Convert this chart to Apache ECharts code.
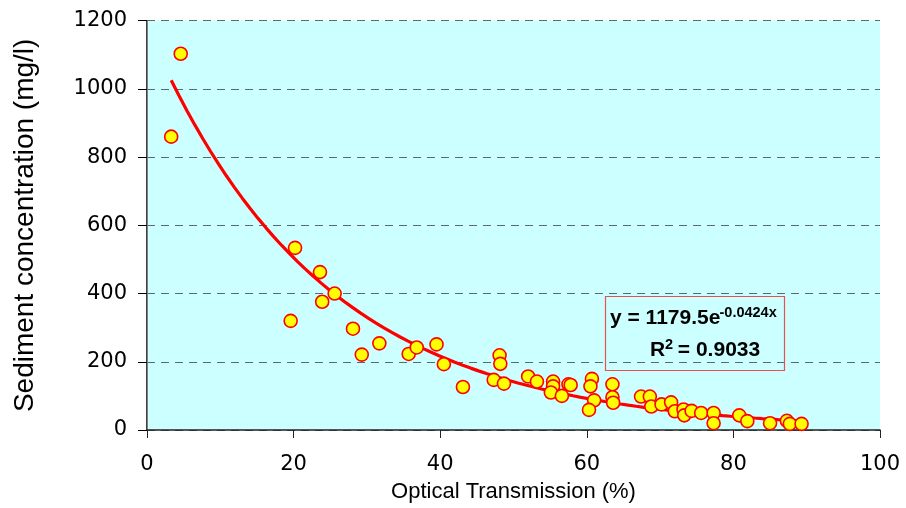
<!DOCTYPE html>
<html>
<head>
<meta charset="utf-8">
<script src="https://cdn.jsdelivr.net/npm/echarts@6/dist/echarts.min.js"></script>
<style>
  html, body { margin: 0; padding: 0; background: #ffffff; }
  #chart { width: 906px; height: 508px; }
</style>
</head>
<body>
<div id="chart"></div>
<script>
// ---- Data ----
const transmission = [3.3, 4.6, 20.2, 23.6, 25.6, 23.9, 19.6, 28.1, 31.7, 29.3,
  35.7, 36.8, 39.5, 40.5, 43.1, 48.1, 48.2, 47.3, 48.7, 52.0,
  53.2, 55.4, 55.4, 55.1, 56.6, 57.5, 57.8, 60.7, 60.5, 61.0,
  60.3, 63.5, 63.5, 63.6, 67.4, 68.6, 68.8, 70.2, 71.5, 72.0,
  73.2, 73.3, 74.3, 75.6, 77.3, 77.3, 80.8, 81.9, 85.0, 87.3,
  87.7, 89.3];
const concentration = [860, 1103, 534, 463, 400, 376, 320, 297, 254, 221,
  223, 242, 251, 193, 126, 219, 194, 147, 136, 157,
  142, 142, 128, 110, 100, 134, 132, 150, 128, 87,
  59, 134, 96, 80, 98, 98, 69, 75, 81, 55,
  60, 43, 56, 50, 50, 20, 43, 26, 20, 27,
  18, 18];
const xTicks = [0, 20, 40, 60, 80, 100];
const yTicks = [0, 200, 400, 600, 800, 1000, 1200];
// Trendline parameters as printed on the chart (y = a * e^(b x))
const trendA = 1179.5;
const trendB = -0.0424;
const rSquared = '0.9033';
const xTitle = 'Optical Transmission (%)';
const yTitle = 'Sediment concentration (mg/l)';

// ---- Build series ----
const scatterData = transmission.map((x, i) => [x, concentration[i]]);
const xMin = Math.min(...transmission), xMax = Math.max(...transmission);
const trendData = [];
const steps = 80;
for (let k = 0; k <= steps; k++) {
  const x = xMin + (xMax - xMin) * k / steps;
  trendData.push([x, trendA * Math.exp(trendB * x)]);
}

const chart = echarts.init(document.getElementById('chart'), null, { renderer: 'canvas' });
const font = 'Liberation Sans, Arial, sans-serif';
const tickFont = 'DejaVu Sans, Liberation Sans, sans-serif';
chart.setOption({
  animation: false,
  backgroundColor: '#ffffff',
  grid: {
    left: 147, right: 26, top: 20.7, bottom: 77,
    show: true, backgroundColor: '#CCFFFF', borderWidth: 0
  },
  xAxis: {
    type: 'value',
    min: xTicks[0], max: xTicks[xTicks.length - 1], interval: xTicks[1] - xTicks[0],
    name: xTitle, nameLocation: 'middle', nameGap: 51,
    nameTextStyle: { fontFamily: font, fontSize: 22, color: '#000' },
    axisLine: { show: true, onZero: false, lineStyle: { color: '#222', width: 1.5 } },
    axisTick: { show: true, inside: false, length: 8, lineStyle: { color: '#222', width: 1 } },
    axisLabel: { fontFamily: tickFont, fontSize: 21, color: '#000', margin: 24 },
    splitLine: { show: false }
  },
  yAxis: [{
    type: 'value',
    min: yTicks[0], max: yTicks[yTicks.length - 1], interval: yTicks[1] - yTicks[0],
    name: yTitle, nameLocation: 'middle', nameGap: 108,
    nameTextStyle: { fontFamily: font, fontSize: 28, color: '#000' },
    axisLine: { show: true, onZero: false, lineStyle: { color: '#000', width: 1.5 } },
    axisTick: { show: true, inside: false, length: 9, lineStyle: { color: '#000', width: 1 } },
    axisLabel: { fontFamily: tickFont, fontSize: 21, color: '#000', margin: 20,
      formatter: v => String(v) },
    splitLine: { show: true, lineStyle: { color: '#5a6a6a', width: 1.2, type: [8, 6] } }
  }, {
    type: 'value', position: 'right',
    min: yTicks[0], max: yTicks[yTicks.length - 1], interval: yTicks[1] - yTicks[0],
    axisLine: { show: true, lineStyle: { color: '#808080', width: 1 } },
    axisTick: { show: false }, axisLabel: { show: false }, splitLine: { show: false }
  }],
  series: [{
    type: 'line',
    data: trendData,
    showSymbol: false,
    smooth: false,
    lineStyle: { color: '#FF0000', width: 3.2 },
    z: 2
  }, {
    type: 'scatter',
    data: scatterData,
    symbol: 'circle',
    symbolSize: 13,
    itemStyle: { color: '#FFFF00', borderColor: '#FF0000', borderWidth: 1.6, opacity: 1 },
    z: 3
  }],
  graphic: [{
    type: 'rect',
    shape: { x: 605.5, y: 296.5, width: 179, height: 74 },
    style: { fill: 'none', stroke: '#E85050', lineWidth: 1.2 },
    z: 10
  }, {
    type: 'text', x: 610, y: 318.5, z: 11,
    style: { text: 'y = ' + trendA + 'e', align: 'left', verticalAlign: 'middle',
      font: 'bold 21px Liberation Sans, Arial, sans-serif', fill: '#000' }
  }, {
    type: 'text', x: 719.5, y: 313, z: 11,
    style: { text: String(trendB) + 'x', align: 'left', verticalAlign: 'middle',
      font: 'bold 14.5px Liberation Sans, Arial, sans-serif', fill: '#000' }
  }, {
    type: 'text', x: 650, y: 350.5, z: 11,
    style: { text: 'R', align: 'left', verticalAlign: 'middle',
      font: 'bold 21px Liberation Sans, Arial, sans-serif', fill: '#000' }
  }, {
    type: 'text', x: 665, y: 345, z: 11,
    style: { text: '2', align: 'left', verticalAlign: 'middle',
      font: 'bold 14.5px Liberation Sans, Arial, sans-serif', fill: '#000' }
  }, {
    type: 'text', x: 672, y: 350.5, z: 11,
    style: { text: ' = ' + rSquared, align: 'left', verticalAlign: 'middle',
      font: 'bold 21px Liberation Sans, Arial, sans-serif', fill: '#000' }
  }]
});
</script>
</body>
</html>
